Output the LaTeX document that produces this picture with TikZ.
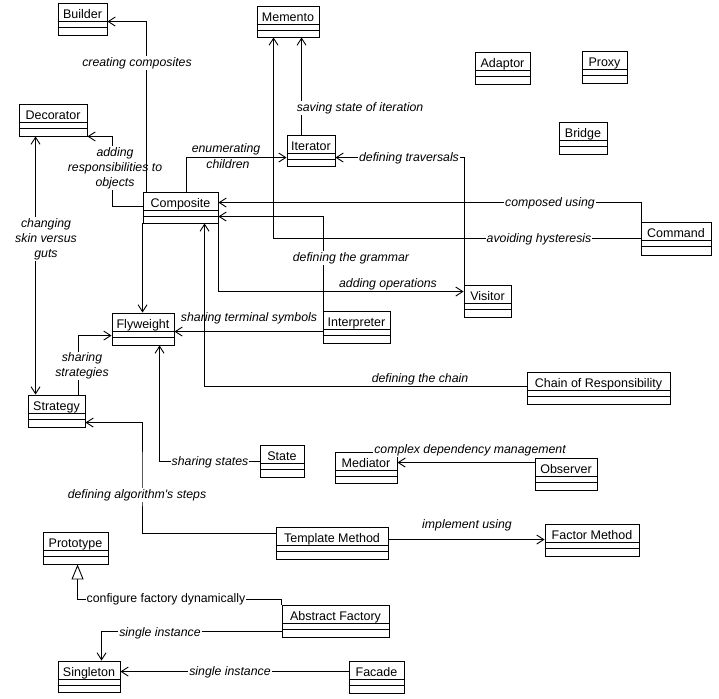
\documentclass[tikz,border=0pt]{standalone}
\usepackage{fontspec}
\setmainfont{Liberation Sans}
\usetikzlibrary{arrows.meta,fit,calc}
\tikzset{
  clsbox/.style={draw, line width=0.9pt, inner sep=0pt},
  clstext/.style={font=\fontsize{12.5}{14}\selectfont, inner sep=0pt, anchor=base},
  conn/.style={line width=0.9pt},
  arr/.style={conn, -{Straight Barb[length=7pt,width=9pt]}},
  dbl/.style={conn, {Straight Barb[length=7pt,width=9pt]}-{Straight Barb[length=7pt,width=9pt]}},
  tri/.style={conn, -{Triangle[open,length=15pt,width=12pt,fill=white]}},
  lbl/.style={font=\fontsize{12.3}{15}\selectfont\itshape, inner sep=1pt, align=center},
  lblw/.style={lbl, fill=white},
  lblu/.style={font=\fontsize{12.3}{15}\selectfont, inner sep=1pt, fill=white},
}
\newcommand\umlcls[6]{%
  \node[clsbox, fit={(#2,#3) (#4,#5)}] (#1) {};
  \node[clstext] (#1-t) at ([yshift=-15.5pt]#1.north) {#6};
  \draw[line width=0.9pt] ([yshift=-19pt]#1.north west) -- ([yshift=-19pt]#1.north east)
        ([yshift=-25pt]#1.north west) -- ([yshift=-25pt]#1.north east);
}
\begin{document}
\begin{tikzpicture}[x=1pt,y=-1pt]
\useasboundingbox[fill=white] (0,0) rectangle (719,698);
% classes
\umlcls{builder}{58}{3}{107}{35}{Builder}
\umlcls{memento}{257}{6}{319}{37}{Memento}
\umlcls{decorator}{19}{104}{87}{136}{Decorator}
\umlcls{iterator}{287}{135}{335}{166}{Iterator}
\umlcls{composite}{143}{192}{218}{223}{Composite}
\umlcls{adaptor}{475}{52}{530}{84}{Adaptor}
\umlcls{proxy}{582}{51}{627}{83}{Proxy}
\umlcls{bridge}{559}{122}{607}{154}{Bridge}
\umlcls{command}{641}{222}{711}{255}{Command}
\umlcls{visitor}{464}{285}{511}{317}{Visitor}
\umlcls{interpreter}{323}{311}{390}{343}{Interpreter}
\umlcls{flyweight}{112}{313}{174}{345}{Flyweight}
\umlcls{strategy}{28}{395}{85}{427}{Strategy}
\umlcls{chain}{527}{372}{670}{404}{Chain of Responsibility}
\umlcls{state}{260}{445}{304}{477}{State}
\umlcls{mediator}{335}{452}{397}{483}{Mediator}
\umlcls{observer}{535}{458}{597}{490}{Observer}
\umlcls{tm}{276}{527}{388}{559}{Template Method}
\umlcls{fm}{545}{524}{639}{556}{Factor Method}
\umlcls{prototype}{43}{532}{108}{564}{Prototype}
\umlcls{af}{282}{605}{389}{637}{Abstract Factory}
\umlcls{singleton}{58}{661}{120}{692}{Singleton}
\umlcls{facade}{349}{661}{404}{693}{Facade}
% connectors
\draw[arr] ([yshift=-15pt]composite.north west) -| (112,170) |- (decorator.south east);
\node[lblw] (l2) at (115,168) {adding\\responsibilities to\\objects};
\draw[arr] ([xshift=4pt]composite.north west) |- ([yshift=-19pt]builder.north east);
\node[lblw] (l1) at (137,63) {creating composites};
\draw[arr] (composite.south west) -- (composite.south west |- flyweight.north);
\draw[arr] ([xshift=44pt]composite.north west) |- ([yshift=-23pt]iterator.north west);
\node[lbl] (l3a) at (226,149) {enumerating};
\node[lblw] (l3b) at (228,164) {children};
\draw[arr] ([xshift=15pt]iterator.north west) -- ([xshift=15pt]iterator.north west |- memento.south);
\node[lblw] (l4) at (360,108) {saving state of iteration};
\draw[arr] ([yshift=-17pt]command.north west) -| ([xshift=17pt]memento.south west);
\node[lblw] (l7) at (539,239) {avoiding hysteresis};
\draw[arr] ([xshift=1pt]command.north west) |- ([yshift=-11pt]composite.north east);
\node[lblw] (l6) at (550,203) {composed using};
\draw[arr] ([xshift=1pt]visitor.north west) |- ([yshift=-23pt]iterator.north east);
\node[lblw] (l5) at (409,158) {defining traversals};
\draw[arr] (composite.south east) |- ([yshift=-7pt]visitor.north west);
\node[lbl] (l9) at (388,284) {adding operations};
\draw[arr] ([xshift=1pt]interpreter.north west) |- ([yshift=-25pt]composite.north east);
\node[lblw] (l8) at (351,258) {defining the grammar};
\draw[arr] ([yshift=-21pt]interpreter.north west) -- ([yshift=-21pt]interpreter.north west -| flyweight.east);
\node[lbl] (l10) at (249,318) {sharing terminal symbols};
\draw[arr] ([yshift=-15pt]chain.north west) -| ([xshift=62pt]composite.south west);
\node[lbl] (l13) at (420,379) {defining the chain};
\draw[dbl] ([xshift=17pt]decorator.south west) -- ([xshift=17pt]decorator.south west |- strategy.north);
\node[lblw] (l11) at (46,239) {changing\\skin versus\\guts};
\draw[arr] ([xshift=51pt]strategy.north west) |- ([yshift=-23pt]flyweight.north west);
\node[lblw] (l12) at (82,366) {sharing\\strategies};
\draw[arr] ([yshift=-17pt]state.north west) -| ([xshift=48pt]flyweight.south west);
\node[lblw] (l14) at (210,462) {sharing states};
\draw[arr] ([yshift=-7pt]tm.north west) -| (142,480) |- ([yshift=-28pt]strategy.north east);
\node[lblw] (l16) at (137,495) {defining algorithm\textquotesingle s steps};
\draw[arr] ([yshift=-13pt]tm.north east) -- ([yshift=-13pt]tm.north east -| fm.west);
\node[lbl] (l17) at (467,525) {implement using};
\draw[arr] ([yshift=-5pt]observer.north west) -- ([yshift=-5pt]observer.north west -| mediator.east);
\node[lblw] (l15) at (470,450) {complex dependency management};
\draw[tri] (af.north west) |- (200,599) -| ([xshift=35pt]prototype.south west);
\node[lblu] (l18) at (166,599) {configure factory dynamically};
\draw[arr] ([yshift=-27pt]af.north west) -| ([xshift=44pt]singleton.north west);
\node[lblw] (l19) at (160,633) {single instance};
\draw[arr] ([yshift=-11pt]facade.north west) -- ([yshift=-11pt]facade.north west -| singleton.east);
\node[lblw] (l20) at (230,672) {single instance};
\end{tikzpicture}
\end{document}
